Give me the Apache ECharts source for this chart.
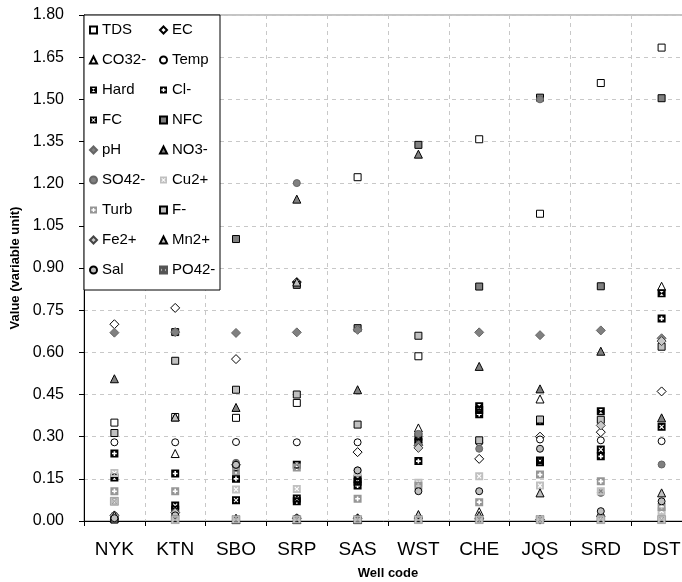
<!DOCTYPE html>
<html><head><meta charset="utf-8">
<script src="https://cdn.jsdelivr.net/npm/echarts@6/dist/echarts.min.js"></script>
<style>html,body{margin:0;padding:0;background:#fff}#c{width:682px;height:582px}</style>
</head><body><div id="c"></div>
<script>
// ---- data (order of wells) ----
const wells = ['NYK','KTN','SBO','SRP','SAS','WST','CHE','JQS','SRD','DST'];
const tds  = [0.350,0.370,0.367,0.420,1.223,0.586,1.358,1.093,1.558,1.684];
const ec   = [0.700,0.758,0.576,0.850,0.245,0.270,0.221,0.300,0.316,0.461];
const co3  = [0.010,0.240,0.005,0.005,0.005,0.331,0.033,0.434,0.030,0.835];
const temp = [0.280,0.280,0.281,0.280,0.280,0.280,0.280,0.290,0.287,0.284];
const hard = [0.155,0.040,0.190,0.200,0.150,0.300,0.408,0.209,0.390,0.810];
const cl   = [0.240,0.169,0.150,0.070,0.126,0.213,0.380,0.355,0.230,0.720];
const fc   = [0.010,0.055,0.074,0.080,0.140,0.280,0.395,0.215,0.254,0.335];
const nfc  = [0.005,0.672,1.003,0.840,0.686,1.338,0.834,1.506,0.835,1.504];
const ph   = [0.670,0.672,0.669,0.671,0.680,0.270,0.671,0.661,0.678,0.650];
const no3  = [0.506,0.370,0.404,1.145,0.467,1.305,0.550,0.470,0.604,0.367];
const so4  = [0.020,0.030,0.207,1.202,0.180,0.310,0.257,1.500,0.100,0.201];
const cu   = [0.171,0.020,0.112,0.114,0.173,0.136,0.159,0.126,0.106,0.035];
const turb = [0.106,0.106,0.177,0.190,0.079,0.125,0.067,0.165,0.141,0.050];
const fl   = [0.313,0.570,0.467,0.450,0.343,0.659,0.287,0.361,0.360,0.620];
const fe   = [0.020,0.030,0.200,0.010,0.010,0.260,0.010,0.005,0.340,0.640];
const mn   = [0.020,0.370,0.010,0.850,0.010,0.023,0.020,0.100,0.030,0.100];
const sal  = [0.010,0.020,0.200,0.010,0.180,0.106,0.106,0.257,0.035,0.070];
const po4  = [0.070,0.005,0.005,0.005,0.005,0.005,0.005,0.005,0.005,0.005];

// ---- glyphs ----
const P_PLUS = 'path://M0,0L10,0L10,10L0,10ZM4,2L4,4L2,4L2,6L4,6L4,8L6,8L6,6L8,6L8,4L6,4L6,2Z';
const P_X = 'path://M0,0L10,0L10,10L0,10ZM2,3L4,5L2,7L3,8L5,6L7,8L8,7L6,5L8,3L7,2L5,4L3,2Z';
const P_HG = 'path://M0,0L10,0L10,10L0,10ZM2.5,2L5,4.6L7.5,2ZM2.5,8L7.5,8L5,5.4Z';

function mk(name, data, symbol, size, fill, border, bw) {
  return {
    name, type: 'scatter', data, symbol, symbolSize: size,
    itemStyle: { color: fill, borderColor: border, borderWidth: bw, opacity: 1 },
    emphasis: { disabled: true }
  };
}
const series = [
  mk('TDS', tds, 'rect', 7, '#ffffff', '#000', 1),
  mk('EC', ec, 'diamond', 9, '#ffffff', '#000', 1),
  mk('CO32-', co3, 'triangle', 8, '#ffffff', '#000', 1),
  mk('Temp', temp, 'circle', 7, '#ffffff', '#000', 1),
  mk('Hard', hard, P_HG, 8, '#000000', '#000', 0),
  mk('Cl-', cl, P_PLUS, 8, '#000000', '#000', 0),
  mk('FC', fc, P_X, 8, '#000000', '#000', 0),
  mk('NFC', nfc, 'rect', 7, '#808080', '#000', 1),
  mk('pH', ph, 'diamond', 9, '#808080', '#666', 1),
  mk('NO3-', no3, 'triangle', 8, '#808080', '#000', 1),
  mk('SO42-', so4, 'circle', 7, '#808080', '#666', 1),
  mk('Cu2+', cu, P_X, 8, '#c0c0c0', '#c0c0c0', 0),
  mk('Turb', turb, P_PLUS, 8, '#969696', '#969696', 0),
  mk('F-', fl, 'rect', 7, '#c0c0c0', '#000', 1),
  mk('Fe2+', fe, 'diamond', 9, '#c8c8c8', '#444', 1),
  mk('Mn2+', mn, 'triangle', 8, '#c0c0c0', '#000', 1),
  mk('Sal', sal, 'circle', 7, '#c0c0c0', '#000', 1),
  mk('PO42-', po4, P_HG, 8, '#c0c0c0', '#555', 0.4)
];
const names = series.map(s => s.name);
const col1 = names.filter((n, i) => i % 2 === 0);
const col2 = names.filter((n, i) => i % 2 === 1);

const FONT = 'Liberation Sans, Arial, sans-serif';
const legendBase = {
  orient: 'vertical', top: 22, padding: 0, itemGap: 14,
  itemWidth: 7, itemHeight: 7, z: 100, selectedMode: false,
  textStyle: { fontFamily: FONT, fontSize: 15, color: '#000', lineHeight: 16 }
};

const chart = echarts.init(document.getElementById('c'), null, { renderer: 'canvas' });
chart.setOption({
  animation: false,
  backgroundColor: '#fff',
  grid: { left: 84, top: 15, right: -10, bottom: 61, containLabel: false, outerBoundsMode: 'none',
          show: true, borderColor: '#888', borderWidth: 1 },
  legend: [
    Object.assign({ left: 89, data: col1 }, legendBase),
    Object.assign({ left: 159, data: col2 }, legendBase)
  ],
  graphic: [{
    type: 'rect', z: 50,
    shape: { x: 84, y: 15, width: 136, height: 275 },
    style: { fill: '#fff', stroke: '#000', lineWidth: 1 }
  }],
  xAxis: {
    type: 'category', data: wells, boundaryGap: true,
    name: 'Well code', nameLocation: 'middle', nameGap: 46,
    nameTextStyle: { fontFamily: FONT, fontSize: 13, fontWeight: 'bold', color: '#000' },
    axisLine: { lineStyle: { color: '#000', width: 1 } },
    axisTick: { show: true, length: 5, lineStyle: { color: '#000' } },
    axisLabel: { fontFamily: FONT, fontSize: 19, color: '#000', margin: 19 },
    splitLine: { show: true, lineStyle: { color: '#c8c8c8', type: [4, 4] } }
  },
  yAxis: {
    type: 'value', min: 0, max: 1.8, interval: 0.15,
    name: 'Value (variable unit)', nameLocation: 'middle', nameGap: 57,
    nameTextStyle: { fontFamily: FONT, fontSize: 13, fontWeight: 'bold', color: '#000' },
    axisLine: { show: true, lineStyle: { color: '#000', width: 1 } },
    axisTick: { show: true, length: 5, lineStyle: { color: '#000' } },
    axisLabel: { fontFamily: FONT, fontSize: 16, color: '#000', margin: 20, formatter: v => v.toFixed(2) },
    splitLine: { show: true, lineStyle: { color: '#c8c8c8', type: [4, 4] } }
  },
  series
});
</script></body></html>
